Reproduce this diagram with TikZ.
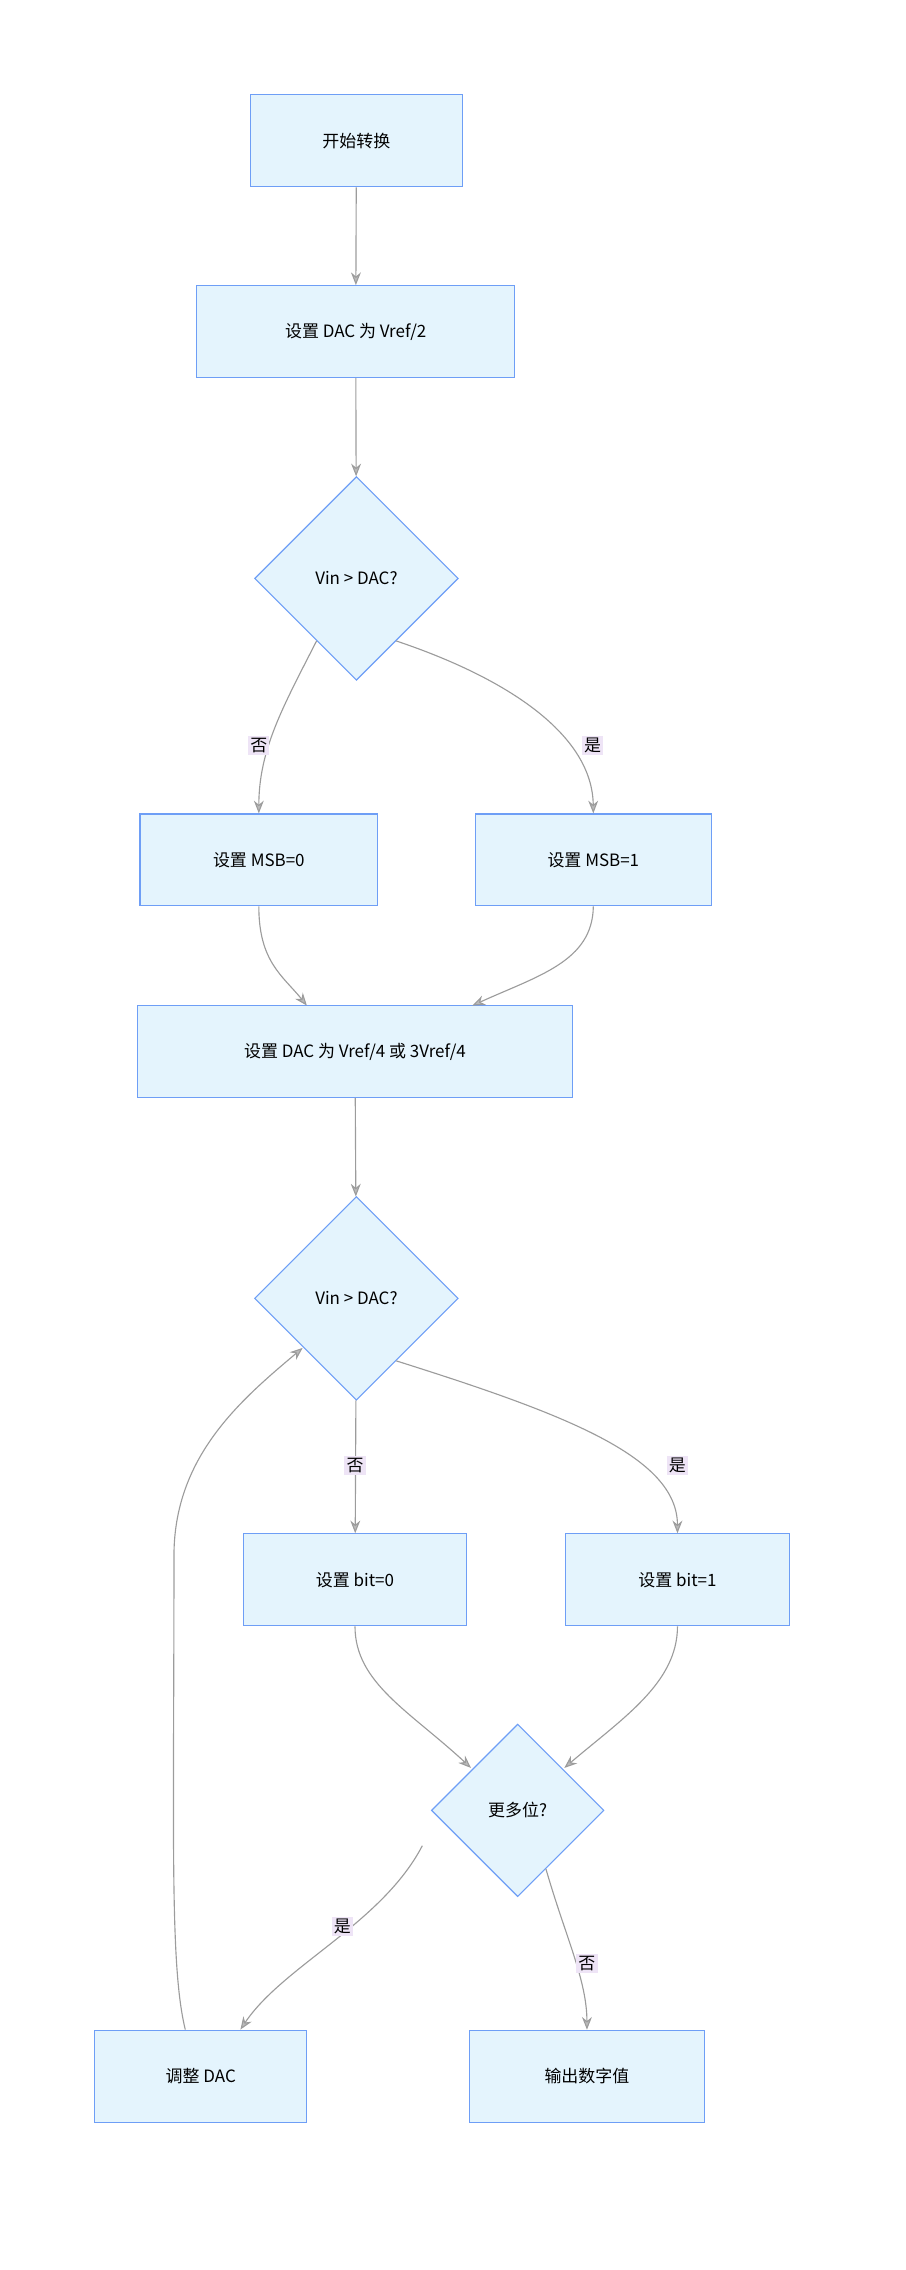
\documentclass[tikz,border=0pt]{standalone}
\usepackage{fontspec}
\setmainfont{Noto Sans CJK SC}
\usetikzlibrary{shapes.geometric,arrows.meta}
\definecolor{boxfill}{HTML}{E4F4FD}
\definecolor{boxline}{HTML}{6E9EF6}
\definecolor{edgegray}{HTML}{9C9C9C}
\definecolor{lblbg}{HTML}{EEE4F6}
\tikzset{
  stepbox/.style={draw=boxline, fill=boxfill, line width=0.8pt, minimum height=65pt, inner sep=0pt, font=\fontsize{12}{14}\selectfont},
  decide/.style={draw=boxline, fill=boxfill, line width=0.8pt, diamond, inner sep=0pt, font=\fontsize{12}{14}\selectfont},
  flow/.style={draw=edgegray, line width=0.8pt, -{Stealth[length=9pt,width=7pt,fill=edgegray!70]}},
  lbl/.style={fill=lblbg, inner sep=1.5pt, font=\fontsize{12}{14}\selectfont}
}
\begin{document}
\begin{tikzpicture}[x=1pt,y=-1pt]
\useasboundingbox (0,0) rectangle (640,1605);

\node[stepbox, minimum width=150pt] (start) at (252,99.5) {开始转换};
\node[stepbox, minimum width=225pt] (dac1) at (251.5,234.5) {设置 DAC 为 Vref/2};
\node[decide, minimum width=144pt, minimum height=144pt] (d1) at (252,409) {Vin > DAC?};
\node[stepbox, minimum width=168pt] (msb0) at (183,608) {设置 MSB=0};
\node[stepbox, minimum width=167pt] (msb1) at (419.5,608) {设置 MSB=1};
\node[stepbox, minimum width=308pt] (dac2) at (251,743.5) {设置 DAC 为 Vref/4 或 3Vref/4};
\node[decide, minimum width=144pt, minimum height=144pt] (d2) at (252,918) {Vin > DAC?};
\node[stepbox, minimum width=158pt] (bit0) at (251,1117) {设置 bit=0};
\node[stepbox, minimum width=158pt] (bit1) at (479,1117) {设置 bit=1};
\node[decide, minimum width=122pt, minimum height=122pt] (d3) at (366,1280) {更多位?};
\node[stepbox, minimum width=150pt] (adj) at (142,1468) {调整 DAC};
\node[stepbox, minimum width=166pt] (out) at (415,1468) {输出数字值};

\draw[flow] (start) -- (dac1);
\draw[flow] (dac1) -- (d1);
\draw[flow] (d1.south west) ++(8,8) coordinate (d1a) .. controls (200,500) and (183,530) .. (msb0.north);
\draw[flow] (d1.south east) ++(-8,8) coordinate (d1b) .. controls (360,480) and (419,520) .. (msb1.north);
\node[lbl] (l1) at (183,527) {否};
\node[lbl] (l2) at (419,527) {是};
\draw[flow] (msb0.south) .. controls (183,680) and (200,690) .. (217,711);
\draw[flow] (msb1.south) .. controls (419,680) and (380,690) .. (334,711);
\draw[flow] (dac2) -- (d2);
\draw[flow] (d2) -- (bit0);
\draw[flow] (d2.south east) ++(-8,8) coordinate (d2b) .. controls (400,1000) and (479,1030) .. (bit1.north);
\node[lbl] (l3) at (251,1036) {否};
\node[lbl] (l4) at (479,1036) {是};
\draw[flow] (bit0.south) .. controls (251,1190) and (290,1210) .. (333,1250);
\draw[flow] (bit1.south) .. controls (479,1190) and (440,1215) .. (399,1250);
\draw[flow] (d3.west) ++(-6,25) coordinate (d3a) .. controls (270,1360) and (200,1390) .. (170,1435);
\draw[flow] (d3.south) ++(20,-20) coordinate (d3b) .. controls (400,1370) and (415,1400) .. (out.north);
\node[lbl] (l5) at (242,1362) {是};
\node[lbl] (l6) at (415,1388) {否};
\draw[flow] (131,1435) coordinate (adjtop) .. controls (120,1390) and (123,1300) .. (123,1100) .. controls (123,1030) and (170,990) .. (214,953);
\end{tikzpicture}
\end{document}
